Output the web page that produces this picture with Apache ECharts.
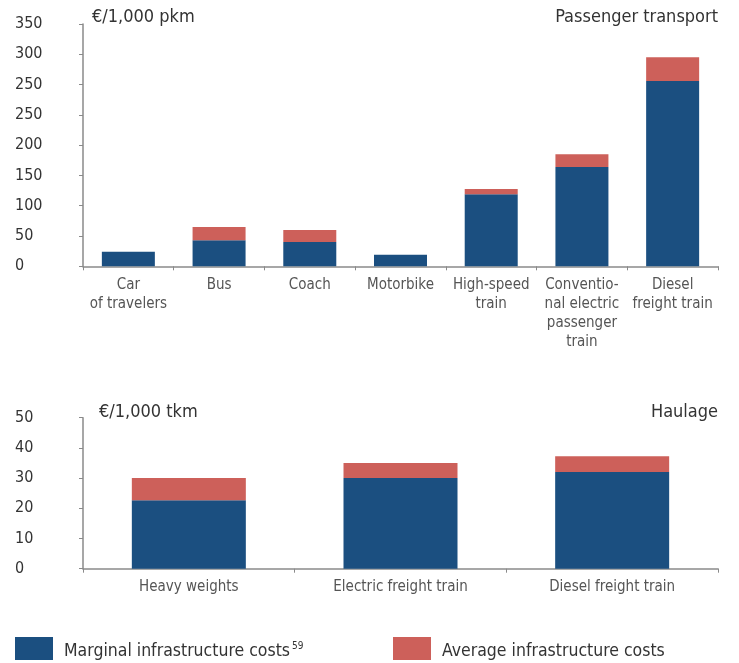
<!DOCTYPE html>
<html style="height: 100%; margin: 0;">
<head>
    <meta charset="utf-8" />
    <title>Infrastructure costs</title>
    <script src="https://cdn.jsdelivr.net/npm/echarts@6/dist/echarts.min.js"></script>
</head>
<body style="height: 100%; margin: 0; background: #fff;">
<div id="main" style="width: 739px; height: 663px;"></div>
<script type="text/javascript">
    // passenger transport (€/1,000 pkm)
    var passengerCats = ['Car\nof travelers', 'Bus', 'Coach', 'Motorbike', 'High-speed\ntrain', 'Conventio-\nnal electric\npassenger\ntrain', 'Diesel\nfreight train'];
    var passengerMarginal = [24, 43, 40, 19, 119, 164, 306];
    var passengerAverage = [24, 65, 60, 19, 127.5, 185, 345];
    // the original axis repeats "250"
    var passengerTicks = ['0', '50', '100', '150', '200', '250', '250', '300', '350'];

    // haulage (€/1,000 tkm)
    var haulageCats = ['Heavy weights', 'Electric freight train', 'Diesel freight train'];
    var haulageMarginal = [22.7, 30, 32];
    var haulageAverage = [30, 35, 37.2];
    var haulageTicks = ['0', '10', '20', '30', '40', '50'];

    var FONT = "'Liberation Sans Narrow', 'DejaVu Sans Condensed', sans-serif";
    var BLUE = '#1b4f80';
    var RED = '#cd605a';
    var AXIS = '#8a8a8a';

    function diff(avg, mar) {
        var out = [];
        for (var i = 0; i < avg.length; i++) out.push(Math.max(0, +(avg[i] - mar[i]).toFixed(2)));
        return out;
    }

    function yAxis(gi, max, step, ticks) {
        return {
            type: 'value', gridIndex: gi, min: 0, max: max, interval: step,
            axisLine: { show: true, lineStyle: { color: AXIS, width: 1.5 } },
            axisTick: { show: true, length: 4, lineStyle: { color: AXIS } },
            splitLine: { show: false },
            axisLabel: {
                margin: 68, align: 'left', verticalAlign: 'middle', padding: [0, 0, 10, 0],
                color: '#333', fontSize: 16, fontFamily: FONT,
                formatter: function (v) { return ticks[Math.round(v / step)]; }
            }
        };
    }

    function xAxis(gi, cats) {
        return {
            type: 'category', gridIndex: gi, data: cats,
            axisLine: { lineStyle: { color: AXIS, width: 1.5 } },
            axisTick: { show: true, length: 4, lineStyle: { color: AXIS } },
            axisLabel: { interval: 0, margin: 9, color: '#555', fontSize: 15, lineHeight: 19, fontFamily: FONT }
        };
    }

    var titleText = { fontSize: 18, fontWeight: 'normal', color: '#333', fontFamily: FONT };
    var legendRich = {
        m: { fontSize: 17.5, color: '#333', fontFamily: FONT },
        sup: { fontSize: 10, verticalAlign: 'top', padding: [0, 0, 11, 2], color: '#333', fontFamily: FONT }
    };

    var myChart = echarts.init(document.getElementById('main'));
    myChart.setOption({
        animation: false,
        textStyle: { fontFamily: FONT },
        title: [
            { text: '€/1,000 pkm', left: 92, top: 8, padding: 0, textStyle: titleText },
            { text: 'Passenger transport', right: 21, top: 8, padding: 0, textStyle: titleText },
            { text: '€/1,000 tkm', left: 99, top: 403, padding: 0, textStyle: titleText },
            { text: 'Haulage', right: 21, top: 403, padding: 0, textStyle: titleText }
        ],
        legend: [
            {
                data: ['Marginal infrastructure costs'], left: 15, top: 637, padding: 0,
                itemWidth: 38, itemHeight: 23, icon: 'rect',
                formatter: function (n) { return '{m|' + n + '}{sup|59}'; },
                textStyle: { fontSize: 17.5, color: '#333', fontFamily: FONT, padding: [6, 0, 0, 6], rich: legendRich }
            },
            {
                data: ['Average infrastructure costs'], left: 393, top: 637, padding: 0,
                itemWidth: 38, itemHeight: 23, icon: 'rect',
                formatter: function (n) { return '{m|' + n + '}'; },
                textStyle: { fontSize: 17.5, color: '#333', fontFamily: FONT, padding: [6, 0, 0, 6], rich: legendRich }
            }
        ],
        grid: [
            { left: 83, right: 21, top: 24, height: 242.3 },
            { left: 83, right: 21, top: 417.7, height: 151 }
        ],
        xAxis: [xAxis(0, passengerCats), xAxis(1, haulageCats)],
        yAxis: [yAxis(0, 400, 50, passengerTicks), yAxis(1, 50, 10, haulageTicks)],
        series: [
            { name: 'Marginal infrastructure costs', type: 'bar', stack: 'p', xAxisIndex: 0, yAxisIndex: 0, barWidth: 53, itemStyle: { color: BLUE }, data: passengerMarginal },
            { name: 'Average infrastructure costs', type: 'bar', stack: 'p', xAxisIndex: 0, yAxisIndex: 0, barWidth: 53, itemStyle: { color: RED }, data: diff(passengerAverage, passengerMarginal) },
            { name: 'Marginal infrastructure costs', type: 'bar', stack: 'h', xAxisIndex: 1, yAxisIndex: 1, barWidth: 114, itemStyle: { color: BLUE }, data: haulageMarginal },
            { name: 'Average infrastructure costs', type: 'bar', stack: 'h', xAxisIndex: 1, yAxisIndex: 1, barWidth: 114, itemStyle: { color: RED }, data: diff(haulageAverage, haulageMarginal) }
        ]
    });
    window.onresize = myChart.resize;
</script>
</body>
</html>
